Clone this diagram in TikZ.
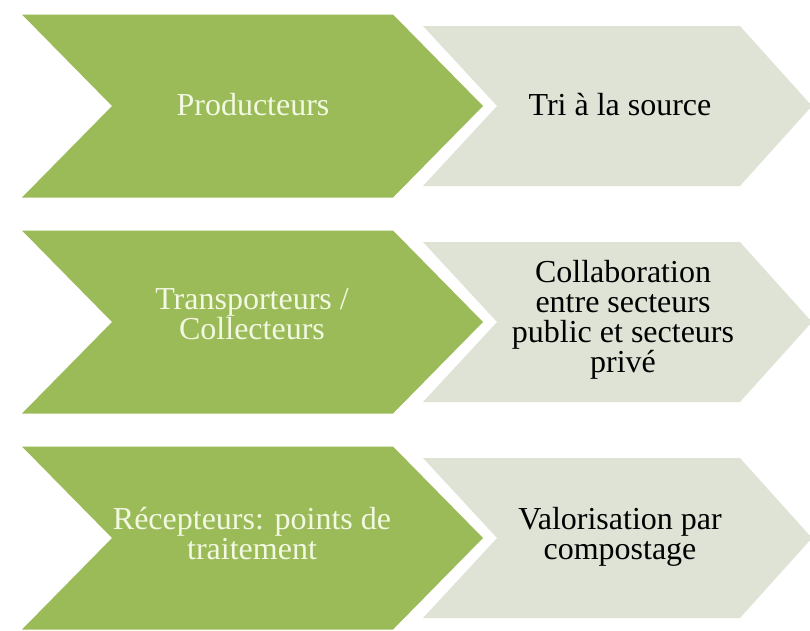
\documentclass[tikz,border=0pt]{standalone}
\usepackage{fontspec}
\setmainfont{Liberation Serif}
\definecolor{chevgreen}{HTML}{9BBB59}
\definecolor{chevgray}{HTML}{DEE3D6}
\definecolor{lighttext}{HTML}{F2F8E2}
\tikzset{
  greenchev/.style={fill=chevgreen},
  graychev/.style={fill=chevgray},
  greenlabel/.style={text=lighttext, align=center, inner sep=0pt,
    font=\fontsize{32}{30}\selectfont},
  graylabel/.style={text=black, align=center, inner sep=0pt,
    font=\fontsize{32}{30}\selectfont}
}
\begin{document}
\begin{tikzpicture}[x=1pt,y=-1pt]
\useasboundingbox (0,0) rectangle (810,630);
\foreach \cy in {106,322,538}{
  \fill[graychev] (423,\cy-80) -- (740,\cy-80) -- (812,\cy) -- (740,\cy+80)
     -- (423,\cy+80) -- (497,\cy) -- cycle;
  \fill[greenchev] (22,\cy-91.5) -- (393,\cy-91.5) -- (483,\cy) -- (393,\cy+91.5)
     -- (22,\cy+91.5) -- (112,\cy) -- cycle;
}
\node[greenlabel] (p1) at (253,105) {Producteurs};
\node[graylabel]  (s1) at (620,105) {Tri à la source};
\node[greenlabel] (p2) at (252,314) {Transporteurs /\\Collecteurs};
\node[graylabel]  (s2) at (623,320) {Collaboration\\entre secteurs\\public et secteurs\\privé};
\node[greenlabel] (p3) at (252,534) {Récepteurs: points de\\traitement};
\node[graylabel]  (s3) at (620,537) {Valorisation par\\compostage};
\end{tikzpicture}
\end{document}
